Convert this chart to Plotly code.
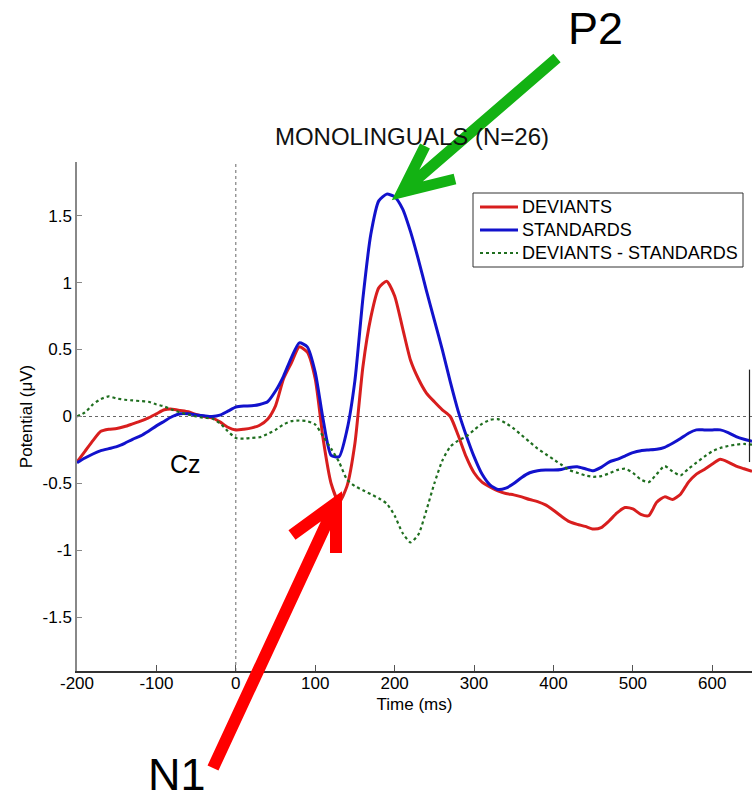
import plotly.graph_objects as go

# ---------------- data ----------------
time_ms = list(range(-200, 651, 10))

deviants = [
    -0.34, -0.26, -0.18, -0.11, -0.095, -0.09, -0.075, -0.055, -0.035, -0.01,
    0.02, 0.05, 0.055, 0.045, 0.035, 0.015, 0.0, -0.01, -0.04, -0.08,
    -0.10, -0.095, -0.085, -0.065, -0.02, 0.08, 0.28, 0.40, 0.52, 0.48,
    0.28, -0.17, -0.50, -0.64, -0.52, -0.20, 0.37, 0.74, 0.96, 1.01,
    0.90, 0.66, 0.42, 0.28, 0.175, 0.11, 0.05, 0.0, -0.14, -0.30,
    -0.42, -0.49, -0.525, -0.555, -0.575, -0.585, -0.60, -0.62, -0.635, -0.66,
    -0.70, -0.745, -0.785, -0.805, -0.82, -0.84, -0.83, -0.78, -0.72, -0.68,
    -0.69, -0.73, -0.74, -0.64, -0.60, -0.62, -0.58, -0.49, -0.43, -0.395,
    -0.355, -0.32, -0.34, -0.37, -0.39, -0.41,
]

standards = [
    -0.345, -0.31, -0.28, -0.255, -0.24, -0.225, -0.20, -0.17, -0.145, -0.11,
    -0.07, -0.035, 0.0, 0.02, 0.02, 0.012, 0.005, 0.0, 0.01, 0.04,
    0.07, 0.078, 0.08, 0.09, 0.11, 0.19, 0.30, 0.44, 0.55, 0.52,
    0.33, -0.025, -0.29, -0.30, -0.10, 0.27, 0.88, 1.36, 1.61, 1.66,
    1.64, 1.55, 1.38, 1.17, 0.94, 0.72, 0.50, 0.26, 0.04, -0.14,
    -0.30, -0.43, -0.51, -0.545, -0.535, -0.50, -0.455, -0.42, -0.405, -0.40,
    -0.40, -0.395, -0.38, -0.375, -0.39, -0.405, -0.38, -0.34, -0.32, -0.295,
    -0.27, -0.255, -0.25, -0.245, -0.23, -0.20, -0.165, -0.125, -0.10, -0.10,
    -0.10, -0.10, -0.12, -0.15, -0.17, -0.185,
]

difference = [
    0.0, 0.03, 0.09, 0.13, 0.15, 0.135, 0.125, 0.12, 0.115, 0.11,
    0.09, 0.075, 0.05, 0.03, 0.015, 0.0, -0.01, -0.015, -0.05, -0.11,
    -0.16, -0.165, -0.16, -0.155, -0.13, -0.10, -0.06, -0.035, -0.03, -0.035,
    -0.06, -0.15, -0.24, -0.34, -0.47, -0.52, -0.55, -0.58, -0.61, -0.65,
    -0.74, -0.87, -0.94, -0.88, -0.70, -0.50, -0.33, -0.225, -0.18, -0.15,
    -0.10, -0.055, -0.025, -0.02, -0.05, -0.09, -0.14, -0.19, -0.24, -0.28,
    -0.32, -0.36, -0.40, -0.42, -0.44, -0.45, -0.445, -0.425, -0.40, -0.39,
    -0.42, -0.47, -0.49, -0.43, -0.37, -0.41, -0.44, -0.39, -0.345, -0.30,
    -0.26, -0.235, -0.22, -0.21, -0.205, -0.21,
]

series_names = ["DEVIANTS", "STANDARDS", "DEVIANTS - STANDARDS"]
series_colors = ["#d81e1e", "#1212cc", "#1f6e1f"]
x_tick_vals = [-200, -100, 0, 100, 200, 300, 400, 500, 600]
x_tick_text = ["-200", "-100", "0", "100", "200", "300", "400", "500", "600"]
y_tick_vals = [-1.5, -1, -0.5, 0, 0.5, 1, 1.5]
y_tick_text = ["-1.5", "-1", "-0.5", "0", "0.5", "1", "1.5"]

FONT = "Liberation Sans, Arial, Helvetica, sans-serif"

# plot area in pixels (for paper-coordinate annotations/shapes)
W, H = 755, 801
L, R, T, B = 77, 3, 162, 130
PW, PH = W - L - R, H - T - B


def px(x):
    return (x - L) / PW


def py(y):
    return (H - B - y) / PH


fig = go.Figure()
fig.add_trace(go.Scatter(x=time_ms, y=deviants, name=series_names[0], mode="lines", showlegend=False,
                         line=dict(color=series_colors[0], width=3, shape="spline", smoothing=0.6)))
fig.add_trace(go.Scatter(x=time_ms, y=standards, name=series_names[1], mode="lines", showlegend=False,
                         line=dict(color=series_colors[1], width=3, shape="spline", smoothing=0.6)))
fig.add_trace(go.Scatter(x=time_ms, y=difference, name=series_names[2], mode="lines", showlegend=False,
                         line=dict(color=series_colors[2], width=2.2, dash="dot", shape="spline", smoothing=0.6)))

shapes = [
    # zero reference lines
    dict(type="line", xref="x", yref="y", x0=-200, x1=650, y0=0, y1=0,
         line=dict(color="#666666", width=1, dash="dot"), layer="below"),
    dict(type="line", xref="x", yref="y", x0=0, x1=0, y0=-1.9, y1=1.9,
         line=dict(color="#666666", width=1, dash="dot"), layer="below"),
    # small vertical marker at the right edge
    dict(type="line", xref="paper", yref="y", x0=px(749.5), x1=px(749.5), y0=0.35, y1=-0.34,
         line=dict(color="#222222", width=1.2)),
    # legend box
    dict(type="rect", xref="paper", yref="paper", x0=px(473), x1=px(743), y0=py(193), y1=py(267),
         line=dict(color="#333333", width=1), fillcolor="white", layer="above"),
]

annotations = []
legend_rows = [207, 230, 253]
for name, color, row, dash, wd in zip(series_names, series_colors, legend_rows,
                                      ["solid", "solid", "dot"], [3, 3, 2.2]):
    shapes.append(dict(type="line", xref="paper", yref="paper", x0=px(480), x1=px(518),
                       y0=py(row), y1=py(row), line=dict(color=color, width=wd, dash=dash),
                       layer="above"))
    annotations.append(dict(text=name, xref="paper", yref="paper", x=px(520), y=py(row),
                            showarrow=False, xanchor="left", yanchor="middle",
                            font=dict(family=FONT, size=18, color="black")))

shapes += [
    # green arrow (P2)
    dict(type="path", xref="paper", yref="paper",
         path=f"M {px(557)} {py(58)} L {px(402)} {py(192)} M {px(425)} {py(146)} L {px(402)} {py(192)} L {px(455)} {py(179)}",
         line=dict(color="#13b213", width=11)),
    # red arrow (N1)
    dict(type="path", xref="paper", yref="paper",
         path=f"M {px(213)} {py(768)} L {px(336)} {py(503)} M {px(292)} {py(535)} L {px(336)} {py(503)} L {px(336)} {py(553)}",
         line=dict(color="#ff0000", width=12)),
]

annotations += [
    dict(text="P2", xref="paper", yref="paper", x=px(595), y=py(28), showarrow=False,
         font=dict(family=FONT, size=45, color="black"), xanchor="center", yanchor="middle"),
    dict(text="N1", xref="paper", yref="paper", x=px(177), y=py(774), showarrow=False,
         font=dict(family=FONT, size=45, color="black"), xanchor="center", yanchor="middle"),
    dict(text="Cz", xref="x", yref="y", x=-64, y=-0.355, showarrow=False,
         font=dict(family=FONT, size=25, color="black"), xanchor="center", yanchor="middle"),
]

fig.update_layout(
    width=W, height=H,
    margin=dict(l=L, r=R, t=T, b=B),
    paper_bgcolor="white", plot_bgcolor="white",
    font=dict(family=FONT, color="black"),
    title=dict(text="MONOLINGUALS (N=26)", x=412 / W, xref="container", y=1 - 137 / H, yref="container",
               xanchor="center", yanchor="middle", font=dict(size=24, family=FONT, color="#111")),
    showlegend=False,
    shapes=shapes,
    annotations=annotations,
)

fig.update_xaxes(range=[-200, 650], showgrid=False, zeroline=False,
                 showline=True, linecolor="#333333", linewidth=1.5,
                 ticks="inside", ticklen=6, tickcolor="#555555",
                 tickvals=x_tick_vals, ticktext=x_tick_text, ticklabelstandoff=-4,
                 tickfont=dict(size=17, family=FONT, color="black"),
                 title=dict(text="Time (ms)", font=dict(size=17, family=FONT, color="black"), standoff=6))
fig.update_yaxes(range=[-1.9, 1.9], showgrid=False, zeroline=False,
                 showline=True, linecolor="#888888", linewidth=1.5,
                 ticks="inside", ticklen=5, tickcolor="#888888",
                 tickvals=y_tick_vals, ticktext=y_tick_text,
                 tickfont=dict(size=17, family=FONT, color="black"),
                 title=dict(text="Potential (\u03bcV)", font=dict(size=17, family=FONT, color="black"), standoff=6))

fig.write_html("out.html")
